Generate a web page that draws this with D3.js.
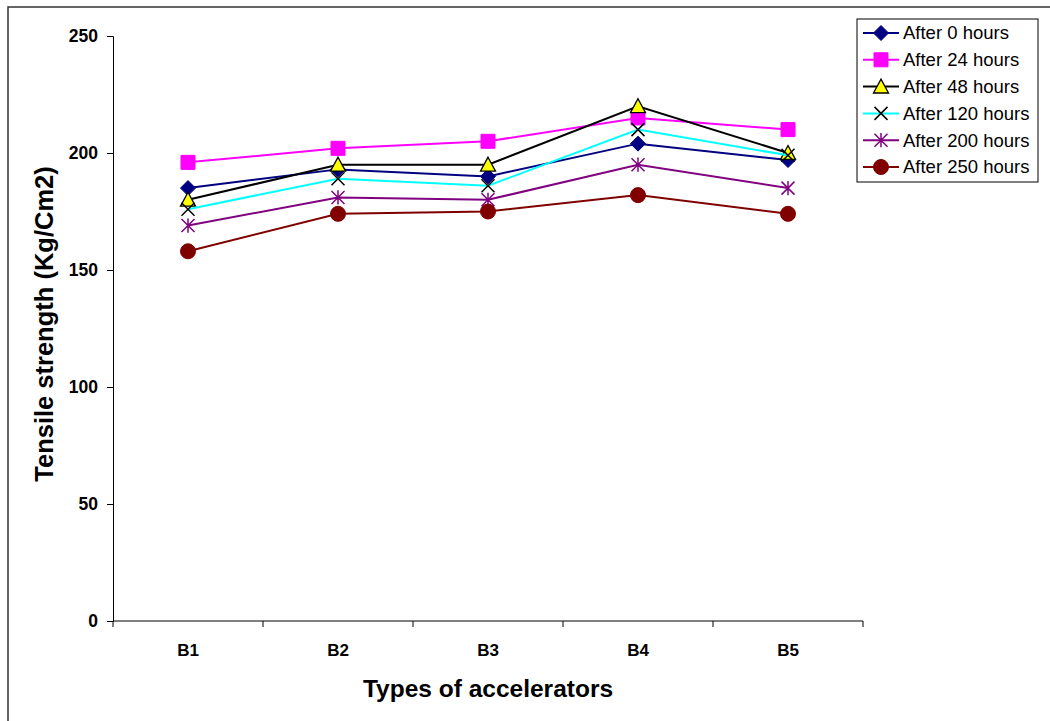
<!DOCTYPE html>
<html>
<head>
<meta charset="utf-8">
<script src="https://cdn.jsdelivr.net/npm/d3@7/dist/d3.min.js"></script>
<style>
  html, body { margin: 0; padding: 0; background: #fff; }
  svg { display: block; }
  text { font-family: "Liberation Sans", Arial, sans-serif; }
</style>
</head>
<body>
<svg id="chart" width="1050" height="721"></svg>
<script>
// Accelerator types on the x axis
const categories = ["B1", "B2", "B3", "B4", "B5"];

// Tensile strength (Kg/Cm2) after each ageing period
const after0 = [185, 193, 190, 204, 197];
const after24 = [196, 202, 205, 215, 210];
const after48 = [180, 195, 195, 220, 200];
const after120 = [176, 189, 186, 210, 199];
const after200 = [169, 181, 180, 195, 185];
const after250 = [158, 174, 175, 182, 174];

const seriesNames = ["After 0 hours", "After 24 hours", "After 48 hours",
                     "After 120 hours", "After 200 hours", "After 250 hours"];
const yTicks = [0, 50, 100, 150, 200, 250];

// Marker shapes as custom d3 symbol types (size = half-width in px)
const diamond = { draw(c, s) { c.moveTo(0, -s); c.lineTo(s, 0); c.lineTo(0, s); c.lineTo(-s, 0); c.closePath(); } };
const square = { draw(c, s) { c.rect(-s, -s, 2 * s, 2 * s); } };
const triangle = { draw(c, s) { c.moveTo(0, -s); c.lineTo(s, s * 0.85); c.lineTo(-s, s * 0.85); c.closePath(); } };
const cross = { draw(c, s) { c.moveTo(-s, -s); c.lineTo(s, s); c.moveTo(s, -s); c.lineTo(-s, s); } };
const star = { draw(c, s) { c.moveTo(-s, -s); c.lineTo(s, s); c.moveTo(s, -s); c.lineTo(-s, s); c.moveTo(0, -s * 1.1); c.lineTo(0, s * 1.1); } };
const circle = { draw(c, s) { c.moveTo(s, 0); c.arc(0, 0, s, 0, 2 * Math.PI); } };

const series = [
  { name: seriesNames[0], values: after0,   line: "#000080", shape: diamond,  size: 7.5, fill: "#000080", stroke: "#000080", sw: 1 },
  { name: seriesNames[1], values: after24,  line: "#FF00FF", shape: square,   size: 7,   fill: "#FF00FF", stroke: "#FF00FF", sw: 1 },
  { name: seriesNames[2], values: after48,  line: "#000000", shape: triangle, size: 7.5, fill: "#FFFF00", stroke: "#000000", sw: 1.3 },
  { name: seriesNames[3], values: after120, line: "#00FFFF", shape: cross,    size: 6.5, fill: "none",    stroke: "#000000", sw: 1.5 },
  { name: seriesNames[4], values: after200, line: "#800080", shape: star,     size: 6.5, fill: "none",    stroke: "#800080", sw: 1.5 },
  { name: seriesNames[5], values: after250, line: "#800000", shape: circle,   size: 7.5, fill: "#800000", stroke: "#800000", sw: 1 }
];

const svg = d3.select("#chart");

// Outer frame
svg.append("rect")
  .attr("x", 8).attr("y", 7).attr("width", 1100).attr("height", 800)
  .attr("fill", "none").attr("stroke", "#333").attr("stroke-width", 1.5);

const plot = { left: 113, right: 863, top: 36, bottom: 621 };

const x = d3.scaleBand().domain(categories).range([plot.left, plot.right]);
const y = d3.scaleLinear().domain([0, 250]).range([plot.bottom, plot.top]);

// Y axis
const yAxis = svg.append("g")
  .attr("transform", `translate(${plot.left},0)`)
  .call(d3.axisLeft(y).tickValues(yTicks).tickSize(6).tickPadding(9));
yAxis.select(".domain").attr("stroke", "#000");
yAxis.selectAll(".tick line").attr("stroke", "#000");
yAxis.selectAll(".tick text")
  .attr("font-size", 17.5).attr("font-weight", "bold").attr("fill", "#000")
  .attr("font-family", "'Liberation Sans', Arial, sans-serif");

// X axis with ticks at category boundaries
const xAxis = svg.append("g")
  .attr("transform", `translate(0,${plot.bottom})`);
xAxis.append("line")
  .attr("x1", plot.left).attr("x2", plot.right)
  .attr("stroke", "#000");
const boundaries = categories.map(c => x(c)).concat([x(categories[categories.length - 1]) + x.bandwidth()]);
xAxis.selectAll("line.tick").data(boundaries).join("line")
  .attr("class", "tick")
  .attr("x1", d => d).attr("x2", d => d).attr("y1", 0).attr("y2", 6)
  .attr("stroke", "#000");
xAxis.selectAll("text").data(categories).join("text")
  .attr("x", d => x(d) + x.bandwidth() / 2)
  .attr("y", 35)
  .attr("text-anchor", "middle")
  .attr("font-size", 17).attr("font-weight", "bold")
  .text(d => d);

// Axis titles
svg.append("text")
  .attr("x", (plot.left + plot.right) / 2).attr("y", 697)
  .attr("text-anchor", "middle")
  .attr("font-size", 24.5).attr("font-weight", "bold")
  .text("Types of accelerators");

svg.append("text")
  .attr("transform", "translate(53,324) rotate(-90)")
  .attr("text-anchor", "middle")
  .attr("font-size", 25.5).attr("font-weight", "bold")
  .text("Tensile strength (Kg/Cm2)");

// Series lines and markers
const lineGen = d3.line()
  .x((d, i) => x(categories[i]) + x.bandwidth() / 2)
  .y(d => y(d));

series.forEach(s => {
  const g = svg.append("g");
  g.append("path")
    .attr("d", lineGen(s.values))
    .attr("fill", "none").attr("stroke", s.line).attr("stroke-width", 2);
  g.selectAll("path.mark").data(s.values).join("path")
    .attr("class", "mark")
    .attr("transform", (d, i) => `translate(${x(categories[i]) + x.bandwidth() / 2},${y(d)})`)
    .attr("d", d3.symbol().type(s.shape).size(s.size))
    .attr("fill", s.fill).attr("stroke", s.stroke).attr("stroke-width", s.sw);
});

// Legend
const legend = svg.append("g");
legend.append("rect")
  .attr("x", 857).attr("y", 19).attr("width", 181).attr("height", 163)
  .attr("fill", "#fff").attr("stroke", "#000").attr("stroke-width", 1);

const rows = legend.selectAll("g.row").data(series).join("g")
  .attr("class", "row")
  .attr("transform", (d, i) => `translate(0,${33 + i * 26.8})`);
rows.append("line")
  .attr("x1", 863).attr("x2", 899)
  .attr("stroke", d => d.line).attr("stroke-width", 2);
rows.append("path")
  .attr("transform", "translate(881,0)")
  .attr("d", d => d3.symbol().type(d.shape).size(d.size)())
  .attr("fill", d => d.fill).attr("stroke", d => d.stroke).attr("stroke-width", d => d.sw);
rows.append("text")
  .attr("x", 903).attr("y", 0).attr("dy", "0.35em")
  .attr("font-size", 18.5)
  .text(d => d.name);
</script>
</body>
</html>
